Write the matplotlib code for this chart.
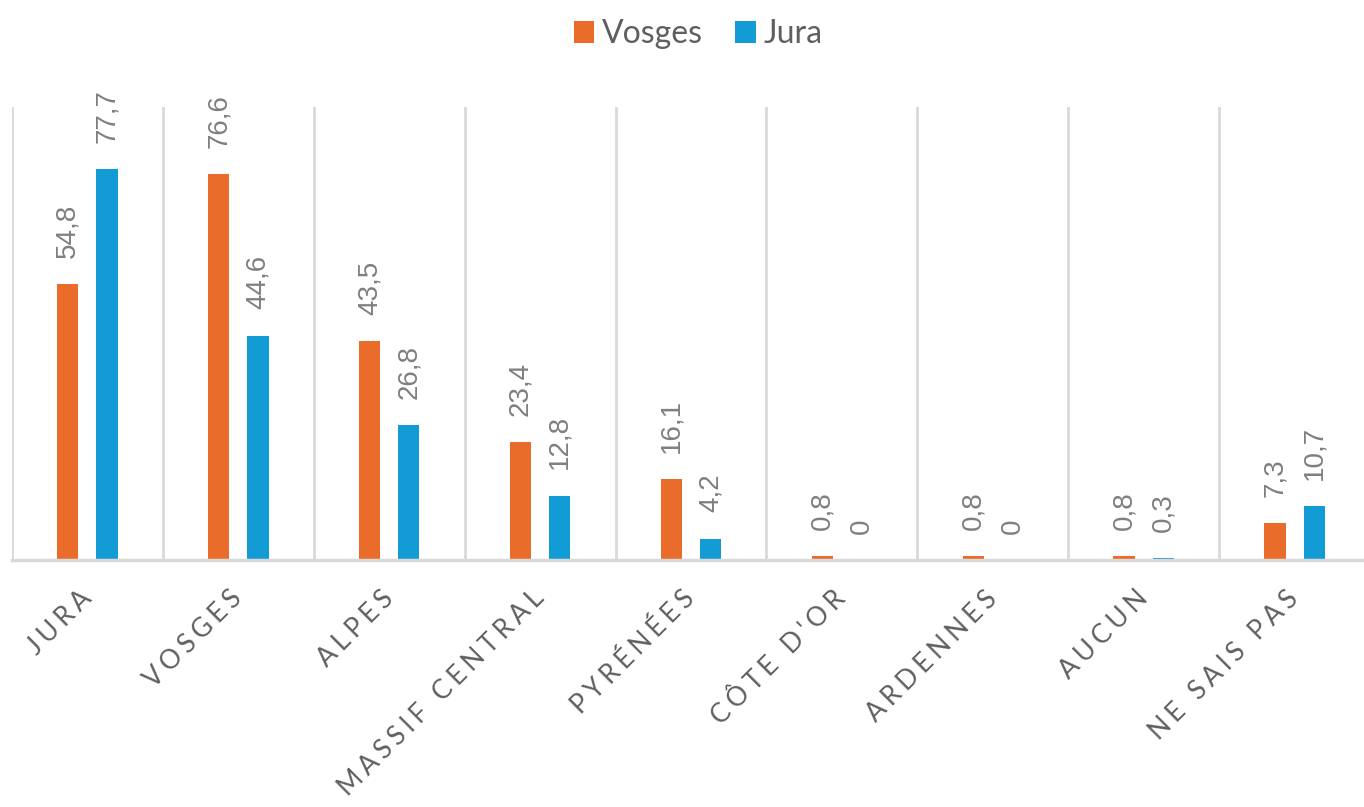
# -*- coding: utf-8 -*-
"""
Massifs cités — Vosges vs Jura (barres groupées)
Sortie: out.png
"""

import matplotlib
import matplotlib.pyplot as plt
from matplotlib.patches import Patch
import numpy as np

matplotlib.use("Agg")

# ============================================================
# Données
# ============================================================
categories = ["JURA", "VOSGES", "ALPES", "MASSIF CENTRAL", "PYRÉNÉES",
              "CÔTE D'OR", "ARDENNES", "AUCUN", "NE SAIS PAS"]
vosges = [54.8, 76.6, 43.5, 23.4, 16.1, 0.8, 0.8, 0.8, 7.3]
jura = [77.7, 44.6, 26.8, 12.8, 4.2, 0, 0, 0.3, 10.7]
series_names = ["Vosges", "Jura"]

ORANGE = "#EA6C2B"
BLUE = "#139BD6"
GRID = "#D9D9D9"
LABEL_GREY = "#7F7F7F"
TICK_GREY = "#5F5F5F"


def fmt(v):
    """format français: virgule décimale, 0 sans décimale"""
    if v == 0:
        return "0"
    return f"{v:.1f}".replace(".", ",")


def spaced(s):
    """espacement des lettres (thin space + hair space)"""
    return "\u2009\u200a".join(s)


def main():
    fig = plt.figure(figsize=(13.64, 8.07), dpi=100)
    ax = fig.add_axes([12 / 1364, 247 / 807, 1358 / 1364, 453 / 807])

    x = np.arange(len(categories))
    offset = 0.13
    width = 0.14

    bars_v = ax.bar(x - offset, vosges, width, color=ORANGE)
    bars_j = ax.bar(x + offset, jura, width, color=BLUE)

    # étiquettes de valeurs, verticales
    for bars, vals in ((bars_v, vosges), (bars_j, jura)):
        for bar, v in zip(bars, vals):
            ax.annotate(fmt(v),
                        (bar.get_x() + bar.get_width() / 2, bar.get_height()),
                        xytext=(0, 19), textcoords="offset points",
                        rotation=90, ha="center", va="bottom",
                        fontsize=20, color=LABEL_GREY,
                        family=["Liberation Sans", "DejaVu Sans"])

    # séparateurs verticaux + ligne de base
    for b in np.arange(-0.5, len(categories) + 0.5, 1.0):
        ax.axvline(b, color=GRID, linewidth=2, zorder=0)
    ax.axhline(0, color=GRID, linewidth=2.5, zorder=3, clip_on=False)

    ax.set_xlim(-0.5, len(categories) - 0.5)
    ax.set_ylim(0, 90)
    for sp in ax.spines.values():
        sp.set_visible(False)
    ax.set_yticks([])

    ax.set_xticks(x)
    ax.set_xticklabels([spaced(c) for c in categories], rotation=45,
                       ha="right", va="center", rotation_mode="anchor",
                       fontsize=19, color=TICK_GREY,
                       family=["Lato", "DejaVu Sans"])
    ax.tick_params(axis="x", length=0, pad=25)

    # légende en haut
    handles = [Patch(facecolor=ORANGE), Patch(facecolor=BLUE)]
    fig.legend(handles, series_names, loc="upper center",
               bbox_to_anchor=(0.512, 1.012), ncol=2, frameon=False,
               handlelength=0.65, handleheight=0.65, handletextpad=0.25,
               columnspacing=1.0,
               prop={"family": "Lato", "size": 23}, labelcolor=TICK_GREY)

    fig.savefig("out.png", dpi=100)
    plt.close(fig)


if __name__ == "__main__":
    main()
